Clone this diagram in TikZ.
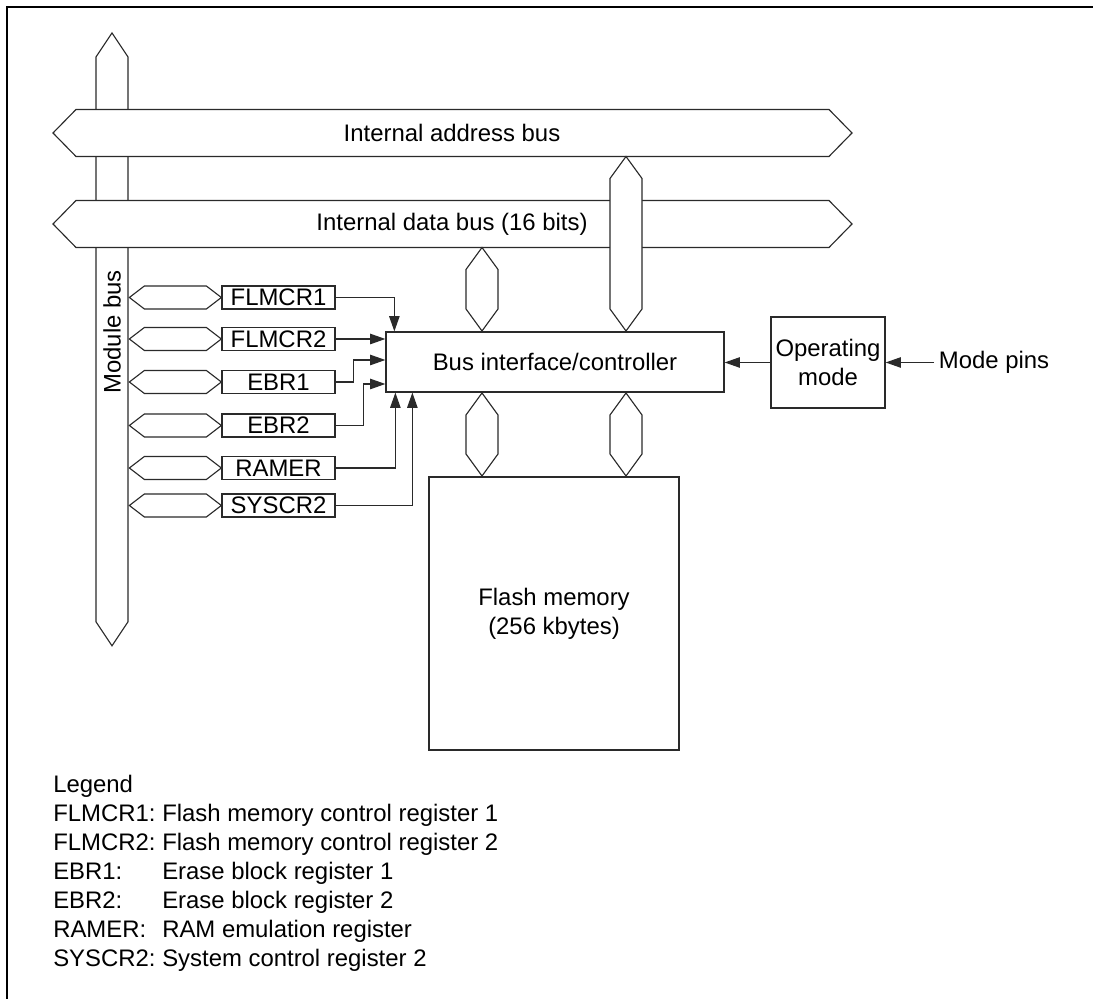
\documentclass[tikz,border=0pt]{standalone}
\usepackage{fontspec}
\setmainfont{Liberation Sans}
\usepackage{tikz}
\usetikzlibrary{calc,positioning,arrows.meta}
\definecolor{traco}{HTML}{2A2A2A}

\begin{document}
\begin{tikzpicture}[x=1cm,y=1cm, font=\fontsize{17}{20.6}\selectfont,
    blk/.style={draw=traco, line width=0.9pt, fill=white, align=center, inner sep=0pt},
    reg/.style={blk, minimum width=2.825cm, minimum height=0.575cm},
    bus/.style={draw=traco, line width=0.8pt, fill=white, line join=miter},
    sig/.style={-{Triangle[length=0.38cm,width=0.26cm]}, line width=0.8pt, traco},
    leg/.style={anchor=base west, inner sep=0pt}]
  \useasboundingbox (0,0) rectangle (27.325,24.975);
  \draw[line width=1.4pt] (0.175,0) -- (0.175,24.8) -- (27.325,24.8);
  % module bus
  \draw[bus] (2.8,24.15) -- (3.2,23.55) -- (3.2,9.43) -- (2.8,8.83) -- (2.4,9.43) -- (2.4,23.55) -- cycle;
  \node[rotate=90] (mbus) at (2.8,16.675) {Module bus};
  % internal buses
  \foreach \n/\y/\t in {abus/21.65/Internal address bus, dbus/19.375/Internal data bus (16 bits)}{
    \draw[bus] (1.325,\y) -- (1.9,\y+0.5875) -- (20.725,\y+0.5875) -- (21.3,\y) -- (20.725,\y-0.5875) -- (1.9,\y-0.5875) -- cycle;
    \node (\n) at (11.3,\y) {\t};
  }
  \node[blk, minimum width=8.45cm, minimum height=1.5cm] (ctrl) at (13.875,15.925) {Bus interface/controller};
  \node[blk, minimum width=6.25cm, minimum height=6.825cm] (flash) at (13.85,9.6375) {Flash memory\\(256 kbytes)};
  \node[blk, minimum width=2.85cm, minimum height=2.275cm] (opm) at (20.7,15.9125) {Operating\\mode};
  \node[anchor=west] (pins) at (23.35,15.9125) {Mode pins};
  % short buses
  \foreach \x/\t/\b in {12.05/18.7875/16.7, 15.65/21.0625/16.7, 12.05/15.15/13.075, 15.65/15.15/13.075}{
    \draw[bus] (\x,\t) -- (\x+0.4,\t-0.55) -- (\x+0.4,\b+0.55) -- (\x,\b) -- (\x-0.4,\b+0.55) -- (\x-0.4,\t-0.55) -- cycle;
  }
  % registers
  \foreach \n/\t/\y in {f1/FLMCR1/17.5375, f2/FLMCR2/16.5, e1/EBR1/15.425, e2/EBR2/14.3375, ram/RAMER/13.275, sys/SYSCR2/12.3375}{
    \node[reg] (\n) at (6.9625,\y) {\t};
    \draw[bus] (\n.west) -- ++(-0.375,0.2875) -- ++(-1.55,0) -- ++(-0.375,-0.2875) -- ++(0.375,-0.2875) -- ++(1.55,0) -- cycle;
  }
  \draw[sig] (f1.east) -| ([xshift=0.225cm]ctrl.north west);
  \draw[sig] (f2.east) -- (f2.east -| ctrl.west);
  \draw[sig] (e1.east) -- ++(0.45,0) |- ([yshift=0.05cm]ctrl.west);
  \draw[sig] (e2.east) -- ++(0.7,0) |- ([yshift=-0.55cm]ctrl.west);
  \draw[sig] (ram.east) -| ([xshift=0.25cm]ctrl.south west);
  \draw[sig] (sys.east) -| ([xshift=0.675cm]ctrl.south west);
  \draw[sig] (opm.west) -- (opm.west -| ctrl.east);
  \draw[sig] (pins.west) -- (opm.east);
  % legend
  \node[leg] (leg) at (1.325,5.15) {Legend};
  \foreach \k/\d [count=\i] in {FLMCR1:/Flash memory control register 1, FLMCR2:/Flash memory control register 2,
                               EBR1:/Erase block register 1, EBR2:/Erase block register 2,
                               RAMER:/RAM emulation register, SYSCR2:/System control register 2}{
    \node[leg] (k\i) at (1.325,5.15-0.725*\i) {\k};
    \node[leg] (d\i) at (4.05,5.15-0.725*\i) {\d};
  }
\end{tikzpicture}
\end{document}
